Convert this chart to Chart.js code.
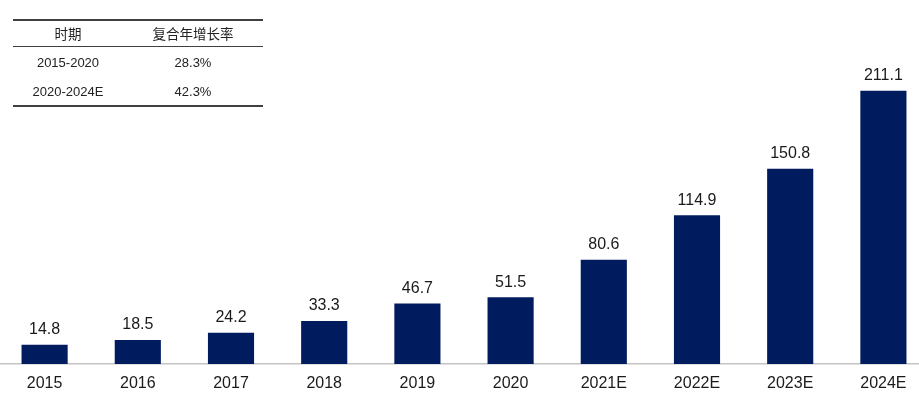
<!DOCTYPE html>
<html>
<head>
<meta charset="utf-8">
<script src="https://cdn.jsdelivr.net/npm/chart.js@4"></script>
<style>
  html, body { margin: 0; padding: 0; background: #fff; overflow: hidden; }
  body { width: 919px; height: 398px; position: relative; font-family: "Liberation Sans", Arial, "Noto Sans CJK SC", sans-serif; }
  #wrap { position: absolute; left: -2px; top: 0; width: 932px; height: 409px; }
  #cagr { position: absolute; left: 13px; top: 19px; width: 250px; color: #222; font-size: 13px; }
  #cagr .row { position: relative; display: flex; }
  #cagr .row div { text-align: center; }
  #cagr .c1 { width: 110px; }
  #cagr .c2 { width: 140px; }
  #cagr .head { border-top: 2px solid #404040; border-bottom: 1.5px solid #404040; height: 25px; line-height: 25px; font-family: "Noto Sans CJK SC", sans-serif; font-size: 13.5px; }
  #cagr .body { height: 31px; line-height: 32px; }
  #cagr .last { border-bottom: 2px solid #404040; height: 27px; line-height: 27px; }
</style>
</head>
<body>
<div id="wrap"><canvas id="chart"></canvas></div>
<div id="cagr"></div>
<script>
const categories = ['2015', '2016', '2017', '2018', '2019', '2020', '2021E', '2022E', '2023E', '2024E'];
const values = [14.8, 18.5, 24.2, 33.3, 46.7, 51.5, 80.6, 114.9, 150.8, 211.1];
const tableHeader = ['时期', '复合年增长率'];
const periods = ['2015-2020', '2020-2024E'];
const cagrs = ['28.3%', '42.3%'];

const barColor = '#001b5e';

// small cagr table in the top-left corner
function renderTable() {
  const el = document.getElementById('cagr');
  let html = `<div class="row head"><div class="c1">${tableHeader[0]}</div><div class="c2">${tableHeader[1]}</div></div>`;
  periods.forEach((p, i) => {
    const cls = i === periods.length - 1 ? 'row last' : 'row body';
    html += `<div class="${cls}"><div class="c1">${p}</div><div class="c2">${cagrs[i]}</div></div>`;
  });
  el.innerHTML = html;
}

const valueLabels = {
  id: 'valueLabels',
  afterDatasetsDraw(chart) {
    const ctx = chart.ctx;
    const meta = chart.getDatasetMeta(0);
    ctx.save();
    ctx.font = '16px "Liberation Sans", Arial, sans-serif';
    ctx.fillStyle = '#1a1a1a';
    ctx.textAlign = 'center';
    ctx.textBaseline = 'middle';
    meta.data.forEach((bar, i) => {
      ctx.fillText(values[i].toFixed(1), bar.x, bar.y - 15);
    });
    ctx.restore();
  }
};

function initChart() {
  const canvas = document.getElementById('chart');
  new Chart(canvas, {
    type: 'bar',
    data: {
      labels: categories,
      datasets: [{
        data: values,
        backgroundColor: barColor,
        borderWidth: 0,
        categoryPercentage: 1,
        barPercentage: 0.495
      }]
    },
    options: {
      responsive: true,
      maintainAspectRatio: false,
      animation: false,
      layout: { padding: { top: 0, bottom: 6.8, left: 0, right: 0 } },
      plugins: {
        legend: { display: false },
        tooltip: { enabled: false }
      },
      scales: {
        x: {
          grid: { display: false, drawTicks: false },
          border: { display: true, color: '#c4c4c4', width: 1.5 },
          ticks: {
            color: '#1a1a1a',
            padding: 9.5,
            font: { family: '"Liberation Sans", Arial, sans-serif', size: 16 }
          }
        },
        y: {
          display: false,
          min: 0,
          max: 281.1
        }
      }
    },
    plugins: [valueLabels]
  });
}

renderTable();
initChart();
</script>
</body>
</html>
